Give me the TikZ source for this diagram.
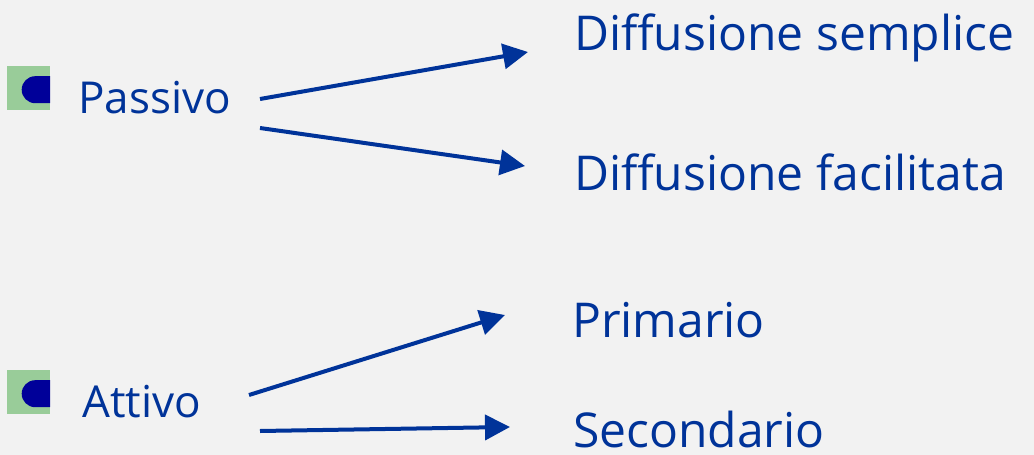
\documentclass[tikz,border=0pt]{standalone}
\usepackage{fontspec}
\setmainfont{Open Sans}
\usetikzlibrary{arrows.meta,positioning,calc}

\definecolor{textblue}{RGB}{0,51,153}
\definecolor{bulletgreen}{RGB}{153,204,153}
\definecolor{bulletblue}{RGB}{0,0,153}
\definecolor{pagegray}{RGB}{242,242,242}

\begin{document}
\begin{tikzpicture}[x=1pt,y=-1pt,>={Triangle[length=25pt,width=25pt]},
    every node/.style={inner sep=0pt,text depth=0pt,anchor=base west,text=textblue},
    item/.style={font=\fontsize{44}{50}\selectfont},
    leaf/.style={font=\fontsize{48}{58}\selectfont},
    bulletbox/.style={fill=bulletgreen,minimum width=43pt,minimum height=44pt,
      anchor=north west,
      path picture={\fill[bulletblue] ($(path picture bounding box.east)+(0,-12)$)
        -- ++(-15,0) arc[start angle=-90,end angle=-270,radius=13.5] -- ++(15,0) -- cycle;}},
    link/.style={->,draw=textblue,line width=4pt}]

  \fill[pagegray] (0,0) rectangle (1034,455);
  \useasboundingbox (0,0) rectangle (1034,455);

  % left column
  \node[bulletbox] (b1) at (7,66) {};
  \node[item]      (passivo) at (78,113) {Passivo};
  \node[bulletbox] (b2) at (7,370) {};
  \node[item]      (attivo) at (82,417) {Attivo};

  % right column
  \node[leaf] (semplice)   at (574,50)  {Diffusione semplice};
  \node[leaf] (facilitata) at (574,190) {Diffusione facilitata};
  \node[leaf] (primario)   at (572,337) {Primario};
  \node[leaf] (secondario) at (573,447) {Secondario};

  % arrow ends
  \coordinate (p1) at (260,99);
  \coordinate (p2) at (260,128);
  \coordinate (a1) at (249,395);
  \coordinate (a2) at (260,431);
  \coordinate (s1) at (528,52);
  \coordinate (s2) at (525,166);
  \coordinate (s3) at (505,315);
  \coordinate (s4) at (510,427);

  \draw[link] (p1) -- (s1);
  \draw[link] (p2) -- (s2);
  \draw[link] (a1) -- (s3);
  \draw[link] (a2) -- (s4);
\end{tikzpicture}
\end{document}
